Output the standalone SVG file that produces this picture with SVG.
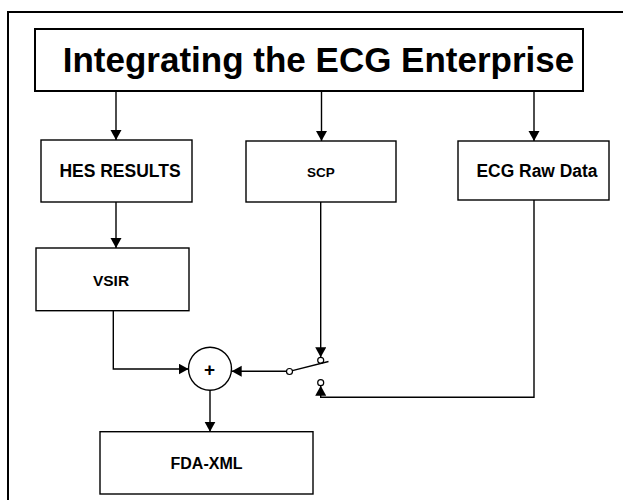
<svg xmlns="http://www.w3.org/2000/svg" width="623" height="500" viewBox="0 0 623 500">
<style>
.box{fill:#fff;stroke:#000;stroke-width:1.4}
.ln{fill:none;stroke:#000;stroke-width:1.4}
.t{font-family:"Liberation Sans",Arial,sans-serif;fill:#000;text-anchor:middle}
.b{font-weight:bold}
.sw{fill:#fff;stroke:#000;stroke-width:1.2}
</style>
<defs>
<marker id="ah" markerUnits="userSpaceOnUse" markerWidth="12" markerHeight="12" refX="10" refY="5.5" orient="auto" viewBox="0 0 12 12">
<path d="M0,0 L10,5.5 L0,11 z" fill="#000"/>
</marker>
</defs>
<rect x="8" y="12" width="640" height="520" fill="none" stroke="#000" stroke-width="2"/>
<g id="title">
<rect x="35" y="29" width="548" height="62" fill="#fff" stroke="#000" stroke-width="2"/>
<text class="t b" x="318.5" y="71.7" font-size="35">Integrating the ECG Enterprise</text>
</g>
<g id="hes">
<rect class="box" x="41" y="140" width="151" height="62"/>
<text class="t b" x="120" y="176.7" font-size="17.5">HES RESULTS</text>
</g>
<g id="scp">
<rect class="box" x="246" y="141" width="150" height="61"/>
<text class="t b" x="321" y="177" font-size="13.5">SCP</text>
</g>
<g id="ecg">
<rect class="box" x="458" y="141" width="151" height="59"/>
<text class="t" x="537" y="177.3" font-size="17.5" font-weight="bold" textLength="121" lengthAdjust="spacingAndGlyphs">ECG Raw Data</text>
</g>
<g id="vsir">
<rect class="box" x="36" y="248" width="153" height="62.7"/>
<text class="t b" x="111" y="286" font-size="15.5">VSIR</text>
</g>
<g id="sum">
<circle cx="210" cy="368.7" r="21.5" fill="#fff" stroke="#000" stroke-width="1.4"/>
<text class="t b" x="209.5" y="375.5" font-size="19">+</text>
</g>
<g id="fda">
<rect class="box" x="100" y="431.7" width="213" height="62.3"/>
<text class="t b" x="206.5" y="469.3" font-size="16">FDA-XML</text>
</g>
<g id="switch">
<circle class="sw" cx="289.5" cy="371.5" r="3"/>
<circle class="sw" cx="320.7" cy="360.3" r="3"/>
<circle class="sw" cx="320.7" cy="382.7" r="3"/>
<line class="ln" x1="292.4" y1="370.6" x2="328.5" y2="361.5"/>
</g>
<g id="connectors">
<line class="ln" x1="116" y1="91" x2="116" y2="140" marker-end="url(#ah)"/>
<line class="ln" x1="321.5" y1="91" x2="321.5" y2="141" marker-end="url(#ah)"/>
<line class="ln" x1="534" y1="91" x2="534" y2="141" marker-end="url(#ah)"/>
<line class="ln" x1="116" y1="202" x2="116" y2="248" marker-end="url(#ah)"/>
<polyline class="ln" points="113.3,310.7 113.3,369 188.5,369" marker-end="url(#ah)"/>
<line class="ln" x1="286.5" y1="371.3" x2="231.7" y2="371.3" marker-end="url(#ah)"/>
<line class="ln" x1="320.7" y1="202" x2="320.7" y2="357.3" marker-end="url(#ah)"/>
<polyline class="ln" points="534,200 534,397.3 320.7,397.3 320.7,385.7" marker-end="url(#ah)"/>
<line class="ln" x1="210" y1="390.2" x2="210" y2="431.7" marker-end="url(#ah)"/>
</g>
</svg>
